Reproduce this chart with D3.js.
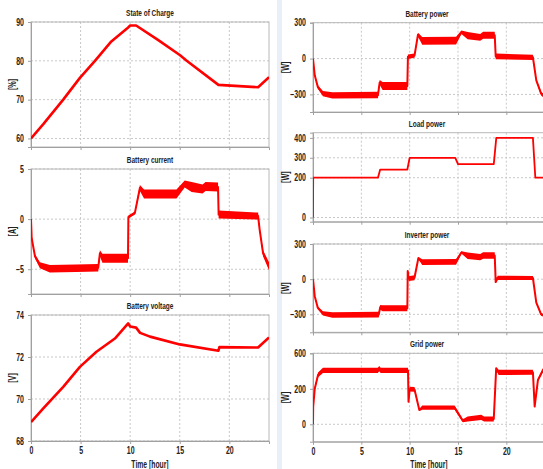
<!DOCTYPE html>
<html>
<head>
<meta charset="utf-8">
<script src="https://cdn.jsdelivr.net/npm/d3@7"></script>
<style>
  body { margin: 0; background: #fff; }
  .tick text { font-family: "Liberation Sans", Arial, sans-serif; font-weight: bold; font-size: 10px; fill: #222; }
  .title { font-family: "Liberation Sans", Arial, sans-serif; font-weight: bold; font-size: 9px; fill: #222; }
  .ylab, .xlab { font-family: "Liberation Sans", Arial, sans-serif; font-weight: bold; font-size: 10px; fill: #222; }
</style>
</head>
<body>
<div id="chart"></div>
<script>
const width = 543, height = 469;

// time axis
const hourTicks = [0, 5, 10, 15, 20];

// [time h, value, ripple half-width]
const stateOfCharge = [
  [0, 60.0, 0], [1.24, 63.7, 0], [3.25, 70.0, 0], [4.93, 75.6, 0], [6.45, 80.0, 0],
  [8.1, 85.0, 0], [9.8, 88.6, 0], [10.0, 89.1, 0], [10.6, 89.1, 0], [12.8, 85.4, 0],
  [15.0, 81.5, 0], [15.7, 80.0, 0], [18.9, 73.8, 0], [22.9, 73.2, 0], [24, 75.8, 0]
];
const batteryCurrent = [
  [0, 0, 0], [0.07, -1.9, 0.1], [0.4, -3.7, 0.2], [0.9, -4.6, 0.3], [1.9, -4.95, 0.38],
  [4.5, -4.9, 0.38], [6.78, -4.85, 0.38], [6.95, -3.4, 0.3], [7.2, -3.9, 0.45], [9.78, -3.9, 0.45],
  [9.82, 0.2, 0.15], [10.47, 0.6, 0.15], [10.98, 3.1, 0.3], [11.4, 2.5, 0.45], [14.67, 2.5, 0.45],
  [15.5, 3.5, 0.35], [16.2, 3.2, 0.5], [17.3, 3.0, 0.45], [17.6, 3.25, 0.45], [18.86, 3.2, 0.45],
  [18.92, 0.45, 0.4], [22.9, 0.3, 0.35], [23.06, -1.07, 0.2], [23.4, -3.4, 0.3], [24, -4.7, 0.4]
];
const batteryVoltage = [
  [0, 68.9, 0], [1.24, 69.55, 0], [3.25, 70.58, 0], [4.93, 71.53, 0], [6.6, 72.25, 0],
  [8.46, 72.88, 0], [9.8, 73.6, 0], [10.0, 73.45, 0], [10.6, 73.4, 0], [11.0, 73.15, 0],
  [12.0, 72.97, 0], [15.0, 72.6, 0], [18.9, 72.3, 0], [19.0, 72.47, 0], [22.9, 72.45, 0],
  [24, 72.93, 0]
];
const batteryPower = [
  [0, 0, 0], [0.18, -140, 8], [0.5, -238, 15], [1.03, -293, 22], [2.0, -308, 27],
  [6.72, -305, 27], [6.9, -200, 20], [7.2, -230, 33], [9.76, -230, 33], [9.82, 15, 18],
  [10.5, 25, 18], [10.86, 200, 15], [11.3, 148, 33], [14.8, 150, 33], [15.35, 220, 15],
  [16.0, 192, 30], [17.3, 178, 28], [17.6, 195, 30], [18.8, 195, 30], [18.9, 18, 24],
  [22.75, 10, 22], [23.1, -182, 10], [23.6, -293, 15], [24, -320, 15]
];
const loadPower = [
  [0, 0, 0], [0.02, 200, 0], [6.72, 200, 0], [6.95, 241, 0], [9.76, 241, 0],
  [10.0, 300, 0], [14.72, 300, 0], [15.0, 268, 0], [18.7, 268, 0], [18.96, 400, 0],
  [22.75, 400, 0], [23.0, 200, 0], [24, 200, 0]
];
const inverterPower = [
  [0, 0, 0], [0.18, -145, 8], [0.5, -245, 12], [1.03, -292, 18], [2.0, -305, 24],
  [6.8, -302, 24], [6.95, -240, 20], [7.2, -248, 26], [9.76, -248, 26], [9.8, 70, 5],
  [9.9, 5, 20], [10.5, 12, 22], [10.9, 180, 10], [11.3, 145, 25], [14.8, 148, 25],
  [15.35, 228, 10], [16.0, 200, 27], [17.3, 188, 27], [17.6, 202, 27], [18.8, 202, 27],
  [18.9, -25, 5], [19.1, 12, 18], [22.75, 10, 17], [23.1, -200, 10], [23.6, -300, 12],
  [24, -312, 12]
];
const gridPower = [
  [0, 0, 0], [0.02, 150, 10], [0.18, 300, 15], [0.52, 417, 20], [1.03, 455, 22],
  [6.7, 455, 22], [6.85, 470, 22], [7.0, 455, 22], [9.83, 455, 22], [9.88, 190, 10],
  [10.0, 297, 20], [10.5, 295, 20], [11.0, 121, 8], [11.3, 140, 18], [14.65, 140, 18],
  [15.5, 30, 12], [16.0, 45, 22], [17.4, 58, 22], [17.7, 45, 22], [18.7, 45, 22],
  [18.95, 473, 10], [19.2, 438, 22], [22.75, 440, 22], [22.93, 150, 8], [23.27, 375, 12],
  [23.8, 460, 18], [24, 470, 18]
];

// y tick values and labels per panel
const socTicks = [60, 70, 80, 90];
const currentTicks = [-5, 0, 5];
const voltageTicks = [68, 70, 72, 74];
const batteryPowerTicks = [-300, 0, 300];
const loadTicks = [0, 200, 300, 400];
const inverterTicks = [-300, 0, 300];
const gridTicks = [0, 300, 600];
const gridTickLabels = ["0", "200", "600"];

const panels = [
  { title: "State of Charge", unit: "[%]", data: stateOfCharge, ticks: socTicks,
    x0: 31, x1: 269, top: 22, bottom: 147, domain: [57.8, 90], lw: 2.6 },
  { title: "Battery current", unit: "[A]", data: batteryCurrent, ticks: currentTicks,
    x0: 31, x1: 269, top: 169, bottom: 294, domain: [-7.47, 5], lw: 2 },
  { title: "Battery voltage", unit: "[V]", data: batteryVoltage, ticks: voltageTicks,
    x0: 31, x1: 269, top: 315, bottom: 441, domain: [68, 74], lw: 2.6, xaxis: true },
  { title: "Battery power", unit: "[W]", data: batteryPower, ticks: batteryPowerTicks,
    x0: 313, x1: 545, top: 22.7, bottom: 112, domain: [-447, 300], lw: 2 },
  { title: "Load power", unit: "[W]", data: loadPower, ticks: loadTicks,
    x0: 313, x1: 545, top: 132.7, bottom: 221.7, domain: [-21, 426], lw: 1.8 },
  { title: "Inverter power", unit: "[W]", data: inverterPower, ticks: inverterTicks,
    x0: 313, x1: 545, top: 244, bottom: 332.3, domain: [-453, 300], lw: 2 },
  { title: "Grid power", unit: "[W]", data: gridPower, ticks: gridTicks, labels: gridTickLabels,
    x0: 313, x1: 545, top: 353.3, bottom: 441.7, domain: [-147, 600], lw: 2, xaxis: true }
];

// squeeze text horizontally (the source uses a very narrow face)
function condense(sel, s) {
  sel.each(function() {
    const t = d3.select(this);
    const x = +t.attr("x") || 0, y = +t.attr("y") || 0;
    t.attr("x", 0).attr("y", 0)
      .attr("transform", `translate(${x},${y}) scale(${s},1)`);
  });
}

const svg = d3.select("#chart")
  .append("svg")
  .attr("width", width)
  .attr("height", height);

// light strip between the two columns
svg.append("rect")
  .attr("x", 277).attr("y", 0)
  .attr("width", 5).attr("height", height)
  .attr("fill", "#eaeef8");

panels.forEach((p, i) => {
  const x = d3.scaleLinear().domain([0, 24]).range([p.x0, p.x1]);
  const y = d3.scaleLinear().domain(p.domain).range([p.bottom, p.top]);
  const g = svg.append("g");

  // grid
  g.selectAll(".vg").data(hourTicks.filter(d => d > 0))
    .join("line")
    .attr("x1", d => x(d)).attr("x2", d => x(d))
    .attr("y1", p.top).attr("y2", p.bottom)
    .attr("stroke", "#c8c8c8").attr("stroke-dasharray", "2,2");
  g.selectAll(".hg").data(p.ticks)
    .join("line")
    .attr("x1", p.x0).attr("x2", p.x1)
    .attr("y1", d => y(d)).attr("y2", d => y(d))
    .attr("stroke", "#c8c8c8").attr("stroke-dasharray", "2,2");

  // frame
  g.append("rect")
    .attr("x", p.x0).attr("y", p.top)
    .attr("width", p.x1 - p.x0).attr("height", p.bottom - p.top)
    .attr("fill", "none").attr("stroke", "#b8b8b8");

  // y axis
  const yAxis = d3.axisLeft(y).tickValues(p.ticks).tickSize(3).tickPadding(4)
    .tickFormat(d3.format("d"));
  if (p.labels) yAxis.tickFormat((d, k) => p.labels[k]);
  const ya = g.append("g").attr("transform", `translate(${p.x0},0)`).call(yAxis);
  ya.select(".domain").attr("stroke", "#a0a0a0");
  ya.selectAll(".tick line").attr("stroke", "#a0a0a0");
  condense(ya.selectAll(".tick text"), 0.7);

  // x axis
  const xAxis = d3.axisBottom(x).tickValues(hourTicks).tickSize(3).tickPadding(3);
  const xa = g.append("g").attr("transform", `translate(0,${p.bottom})`).call(xAxis);
  xa.select(".domain").attr("stroke", "#a0a0a0");
  xa.selectAll(".tick line").attr("stroke", "#a0a0a0");
  if (!p.xaxis) xa.selectAll(".tick text").remove();
  else condense(xa.selectAll(".tick text"), 0.7);

  // clip
  const cid = "clip" + i;
  svg.append("clipPath").attr("id", cid)
    .append("rect")
    .attr("x", p.x0).attr("y", p.top - 2)
    .attr("width", p.x1 - p.x0).attr("height", p.bottom - p.top + 2);

  const area = d3.area()
    .x(d => x(d[0]))
    .y0(d => y(d[1] - d[2]))
    .y1(d => y(d[1] + d[2]));
  const line = d3.line()
    .x(d => x(d[0]))
    .y(d => y(d[1]));

  g.append("path").datum(p.data)
    .attr("clip-path", `url(#${cid})`)
    .attr("d", area)
    .attr("fill", "#ff0000");
  g.append("path").datum(p.data)
    .attr("clip-path", `url(#${cid})`)
    .attr("d", line)
    .attr("fill", "none")
    .attr("stroke", "#ff0000")
    .attr("stroke-width", p.lw)
    .attr("stroke-linejoin", "round");

  // title
  g.append("text").attr("class", "title")
    .attr("transform", `translate(${(p.x0 + Math.min(p.x1, 543)) / 2 + (p.x0 > 300 ? -1 : 0)},${p.top - 6}) scale(0.72,1)`)
    .attr("text-anchor", "middle")
    .text(p.title);

  // unit label
  const ux = p.x0 < 100 ? 12 : 285;
  g.append("text").attr("class", "ylab")
    .attr("transform", `translate(${ux},${(p.top + p.bottom) / 2}) rotate(-90) scale(0.72,1)`)
    .attr("text-anchor", "middle")
    .attr("dy", "0.35em")
    .text(p.unit);

  if (p.xaxis) {
    g.append("text").attr("class", "xlab")
      .attr("transform", `translate(${p.x0 < 100 ? 150 : 429},468) scale(0.68,1)`)
      .attr("text-anchor", "middle")
      .text("Time [hour]");
  }
});
</script>
</body>
</html>
